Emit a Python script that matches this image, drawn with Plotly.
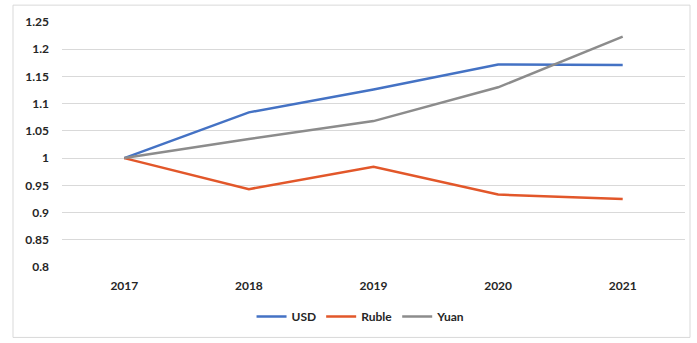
import plotly.graph_objects as go

years = ["2017", "2018", "2019", "2020", "2021"]
usd = [1.0, 1.084, 1.126, 1.172, 1.171]
ruble = [1.0, 0.943, 0.984, 0.933, 0.925]
yuan = [1.0, 1.035, 1.068, 1.130, 1.223]

y_ticks = [0.8, 0.85, 0.9, 0.95, 1.0, 1.05, 1.1, 1.15, 1.2, 1.25]
y_labels = ["0.8", "0.85", "0.9", "0.95", "1", "1.05", "1.1", "1.15", "1.2", "1.25"]

fig = go.Figure()
fig.add_trace(go.Scatter(x=years, y=usd, name="USD", mode="lines",
                         line=dict(color="#4472C4", width=2.5)))
fig.add_trace(go.Scatter(x=years, y=ruble, name="Ruble", mode="lines",
                         line=dict(color="#E2572A", width=2.5)))
fig.add_trace(go.Scatter(x=years, y=yuan, name="Yuan", mode="lines",
                         line=dict(color="#8C8C8C", width=2.5)))

W, H = 697, 343
ml, mr, mt, mb = 62, 12, 22, 74
pw, ph = W - ml - mr, H - mt - mb

def px_x(p):
    return (p - ml) / pw

def px_y(p):
    return (H - mb - p) / ph

tick_font = dict(family="Lato, Liberation Sans, sans-serif", size=12, color="#262626", weight="bold")

fig.update_layout(
    width=W, height=H,
    margin=dict(l=ml, r=mr, t=mt, b=mb),
    paper_bgcolor="white", plot_bgcolor="white",
    font=dict(family="Lato, Liberation Sans, sans-serif", size=12, color="#262626"),
    showlegend=True,
    legend=dict(orientation="h", x=0.48, xanchor="center", y=px_y(319), yanchor="middle",
                font=tick_font, itemwidth=30, tracegroupgap=0),
    xaxis=dict(type="category", range=[-0.5, 4.5], showgrid=False, showline=False,
               zeroline=False, ticks="", tickfont=tick_font, ticklabelstandoff=10),
    yaxis=dict(range=[0.8, 1.25], tickvals=y_ticks, ticktext=y_labels,
               showgrid=True, gridcolor="#D9D9D9", gridwidth=1, zeroline=False,
               showline=False, ticks="", tickfont=tick_font, ticklabelstandoff=12),
    shapes=[dict(type="rect", xref="paper", yref="paper",
                 x0=px_x(13), x1=px_x(690), y0=px_y(340), y1=px_y(5),
                 line=dict(color="#D9D9D9", width=1), layer="below")],
)

fig.write_html("out.html", config={"displayModeBar": False},
               post_script="document.body.style.margin='0px';document.body.style.overflow='hidden';")
